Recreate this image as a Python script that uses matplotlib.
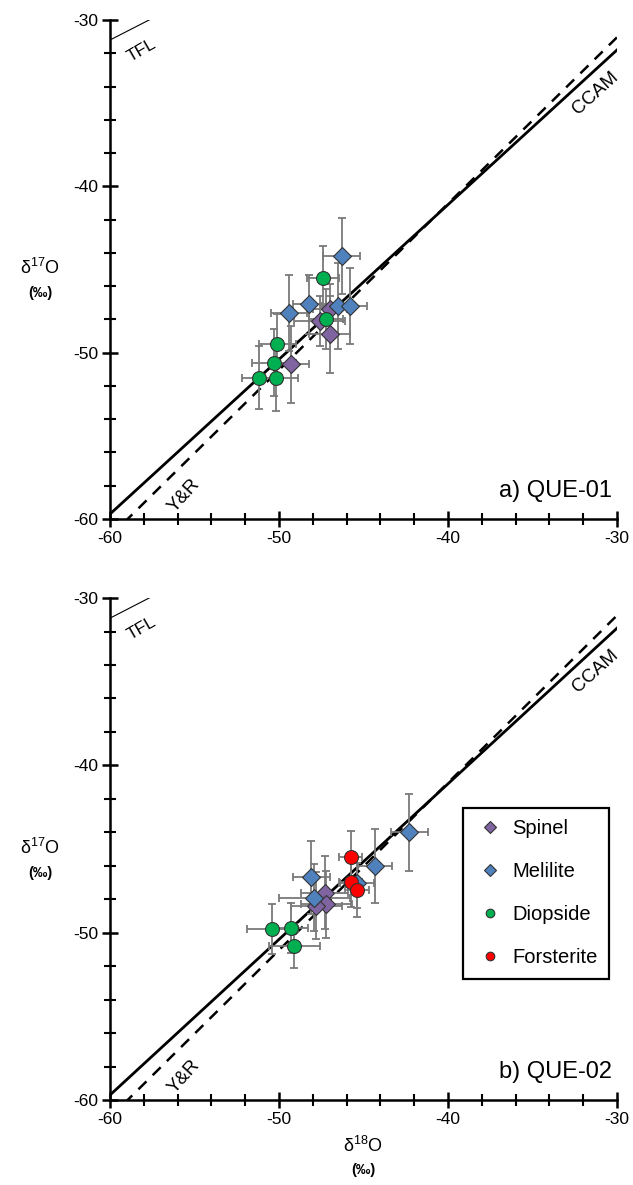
import numpy as np
import matplotlib
matplotlib.use("Agg")
import matplotlib.pyplot as plt
from matplotlib.ticker import MultipleLocator

plt.rcParams['font.family'] = ['Liberation Sans', 'DejaVu Sans']
plt.rcParams['mathtext.default'] = 'regular'
plt.rcParams['axes.unicode_minus'] = False

# ---- data: QUE-01 ----
a_spinel_x = [-47.0, -47.6, -47.0, -49.3]
a_spinel_y = [-47.4, -48.1, -48.9, -50.7]
a_spinel_xe = [1.0, 1.5, 1.2, 1.1]
a_spinel_ye = [1.5, 1.5, 2.3, 2.3]

a_mel_x = [-46.3, -48.2, -49.4, -46.5, -45.8]
a_mel_y = [-44.2, -47.1, -47.6, -47.2, -47.2]
a_mel_xe = [1.1, 1.0, 1.05, 1.0, 1.0]
a_mel_ye = [2.3, 1.8, 2.3, 2.6, 2.3]

a_dio_x = [-47.4, -47.2, -50.1, -50.3, -51.2, -50.2]
a_dio_y = [-45.5, -48.0, -49.5, -50.6, -51.5, -51.5]
a_dio_xe = [0.95, 1.0, 1.1, 1.3, 1.0, 1.3]
a_dio_ye = [1.9, 1.8, 1.8, 2.0, 1.9, 2.0]

# ---- data: QUE-02 ----
b_spinel_x = [-47.3, -47.2, -47.8]
b_spinel_y = [-47.6, -48.3, -48.4]
b_spinel_xe = [1.4, 1.5, 1.5]
b_spinel_ye = [2.2, 2.0, 2.0]

b_mel_x = [-42.3, -44.3, -48.1, -45.4, -47.9]
b_mel_y = [-44.0, -46.0, -46.7, -47.0, -47.9]
b_mel_xe = [1.1, 1.0, 1.1, 1.0, 2.1]
b_mel_ye = [2.3, 2.2, 2.2, 1.5, 2.0]

b_dio_x = [-50.4, -49.3, -49.1]
b_dio_y = [-49.8, -49.7, -50.8]
b_dio_xe = [1.5, 1.0, 1.5]
b_dio_ye = [1.5, 1.5, 1.3]

b_for_x = [-45.76, -45.76, -45.4]
b_for_y = [-45.46, -46.96, -47.45]
b_for_xe = [0.7, 0.7, 0.7]
b_for_ye = [1.55, 1.5, 1.6]

# reference lines (slope, intercept)
ccam = (0.93, -3.9)
yr = (1.0, -1.04)
tfl = (0.52, 0.0)

styles = {
    "Spinel": dict(marker="D", color="#8064A2", ms=9.5),
    "Melilite": dict(marker="D", color="#4F81BD", ms=9.5),
    "Diopside": dict(marker="o", color="#00B050", ms=10),
    "Forsterite": dict(marker="o", color="#FF0000", ms=10),
}


def draw_panel(ax, series, tag):
    xs = np.linspace(-60, -30, 200)
    ax.plot(xs, ccam[0] * xs + ccam[1], color="black", lw=2.0, zorder=2)
    ax.plot(xs, yr[0] * xs + yr[1], color="black", lw=1.8,
            dashes=(4.5, 3.5), zorder=2)
    ax.plot(xs, tfl[0] * xs + tfl[1], color="black", lw=0.8, zorder=2)

    for name, x, y, xe, ye in series:
        st = styles[name]
        ax.errorbar(x, y, xerr=xe, yerr=ye, fmt="none", ecolor="#7a7a7a",
                    elinewidth=1.3, capsize=3, capthick=1.3, zorder=3)
        ax.plot(x, y, linestyle="none", marker=st["marker"], ms=st["ms"],
                markerfacecolor=st["color"], markeredgecolor="#333333",
                markeredgewidth=0.8, zorder=4, label=name)

    ax.set_xlim(-60, -30)
    ax.set_ylim(-60, -30)
    for s in ("top", "right"):
        ax.spines[s].set_visible(False)
    for s in ("left", "bottom"):
        ax.spines[s].set_linewidth(1.8)
    ax.xaxis.set_major_locator(MultipleLocator(10))
    ax.xaxis.set_minor_locator(MultipleLocator(2))
    ax.yaxis.set_major_locator(MultipleLocator(10))
    ax.yaxis.set_minor_locator(MultipleLocator(2))
    ax.tick_params(which="major", direction="inout", length=11, width=1.8,
                   labelsize=12.5, pad=3)
    ax.tick_params(which="minor", direction="inout", length=8, width=1.5)

    ax.text(-31.3, -34.4, "CCAM", rotation=42, fontsize=13.5,
            ha="center", va="center")
    ax.text(-55.6, -58.6, "Y&R", rotation=48, fontsize=13.5,
            ha="center", va="center")
    ax.text(-58.1, -31.8, "TFL", rotation=30, fontsize=12.5,
            ha="center", va="center")
    ax.text(-30.3, -58.3, tag, fontsize=17, ha="right", va="center")


fig = plt.figure(figsize=(6.33, 11.85), dpi=100)
ax1 = fig.add_axes([0.1738, 0.562, 0.8009, 0.4211])
ax2 = fig.add_axes([0.1738, 0.0717, 0.8009, 0.4236])

draw_panel(ax1, [
    ("Spinel", a_spinel_x, a_spinel_y, a_spinel_xe, a_spinel_ye),
    ("Melilite", a_mel_x, a_mel_y, a_mel_xe, a_mel_ye),
    ("Diopside", a_dio_x, a_dio_y, a_dio_xe, a_dio_ye),
], "a) QUE-01")

draw_panel(ax2, [
    ("Spinel", b_spinel_x, b_spinel_y, b_spinel_xe, b_spinel_ye),
    ("Melilite", b_mel_x, b_mel_y, b_mel_xe, b_mel_ye),
    ("Diopside", b_dio_x, b_dio_y, b_dio_xe, b_dio_ye),
    ("Forsterite", b_for_x, b_for_y, b_for_xe, b_for_ye),
], "b) QUE-02")

leg = ax2.legend(loc="upper left", bbox_to_anchor=(0.696, 0.582),
                 borderaxespad=0, fontsize=14.5, markerscale=0.62,
                 handlelength=1.6, handletextpad=0.3, labelspacing=1.2,
                 borderpad=0.55, fancybox=False, framealpha=1,
                 edgecolor="black")
leg.get_frame().set_linewidth(1.6)

# axis titles
for yc in (268, 848):
    fig.text(40 / 633, 1 - yc / 1185, "δ$^{17}$O", fontsize=13,
             ha="center", va="center")
    fig.text(40 / 633, 1 - (yc + 25) / 1185, "(‰)", fontsize=10.5,
             fontweight="bold", ha="center", va="center")
fig.text(363 / 633, 1 - 1146 / 1185, "δ$^{18}$O", fontsize=13,
         ha="center", va="center")
fig.text(363 / 633, 1 - 1170 / 1185, "(‰)", fontsize=10.5,
         fontweight="bold", ha="center", va="center")

fig.savefig("out.png", dpi=100)
